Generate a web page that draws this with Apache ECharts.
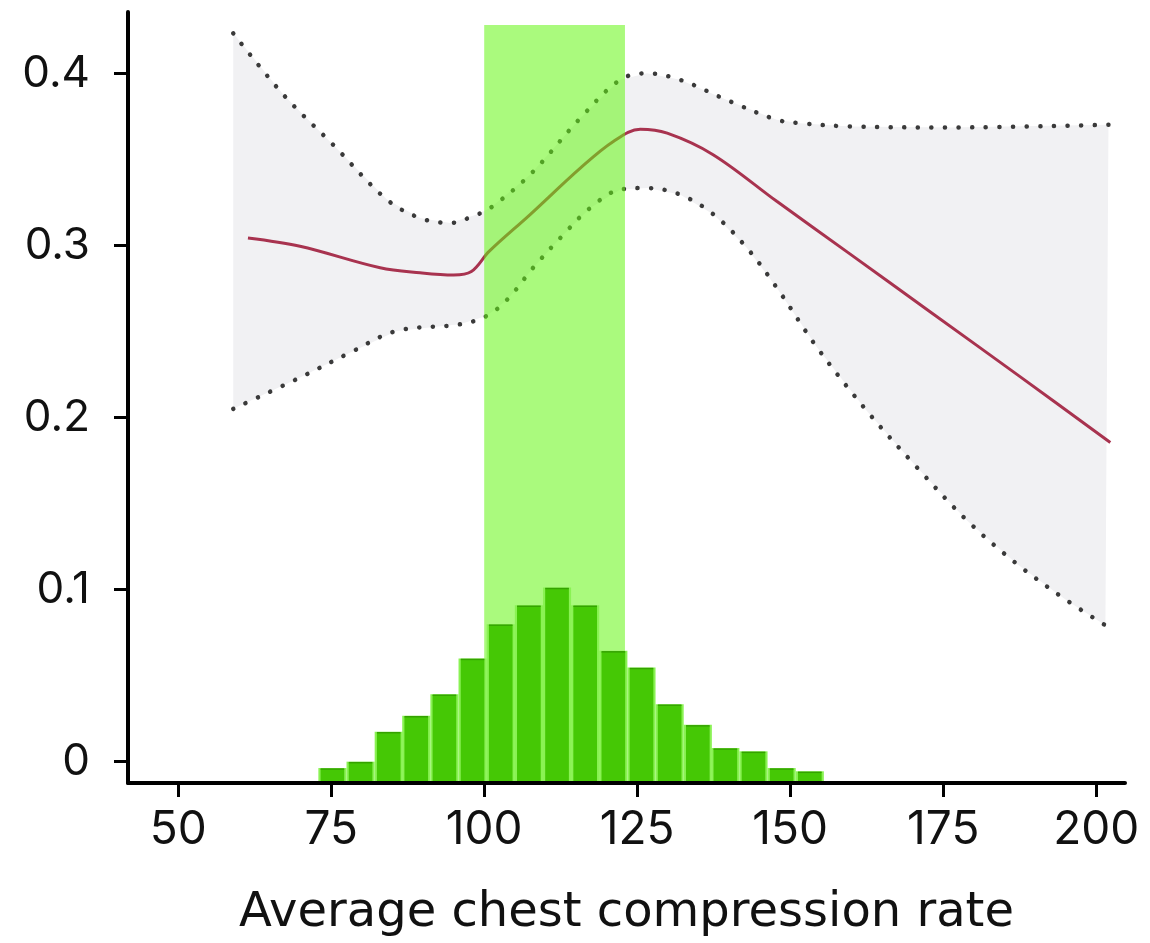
<!DOCTYPE html>
<html>
<head>
<meta charset="utf-8">
<script src="https://cdn.jsdelivr.net/npm/echarts@6/dist/echarts.min.js"></script>
<style>
html,body{margin:0;padding:0;background:#ffffff;}
#chart{width:1150px;height:943px;}
</style>
</head>
<body>
<div id="chart"></div>
<script>
// ---------- data ----------
const xTicks = [50, 75, 100, 125, 150, 175, 200];
const yTicks = [0, 0.1, 0.2, 0.3, 0.4];
const xName = 'Average chest compression rate';

// fitted curve (red)
const curveX = [61.4, 69.9, 83.0, 89.5, 95.0, 97.9, 100.8, 107.5, 115.7, 121.1, 125.5, 129.9, 137.4, 147.8, 159.8, 172.9, 187.6, 202.3];
const curveY = [0.3043, 0.2995, 0.2870, 0.2841, 0.2828, 0.2848, 0.2965, 0.3179, 0.3449, 0.3604, 0.3675, 0.3652, 0.3527, 0.3256, 0.2949, 0.2613, 0.2236, 0.1855];

// upper confidence limit (dotted)
const upperX = [59.0, 67.2, 75.3, 84.1, 89.5, 94.4, 98.8, 101.0, 107.5, 115.7, 122.2, 126.6, 132.0, 140.2, 147.8, 151.6, 159.8, 176.1, 202.0];
const upperY = [0.4232, 0.3875, 0.3585, 0.3266, 0.3159, 0.3130, 0.3179, 0.3217, 0.3411, 0.3739, 0.3962, 0.4000, 0.3962, 0.3836, 0.3730, 0.3710, 0.3691, 0.3685, 0.3701];

// lower confidence limit (dotted)
const lowerX = [59.0, 69.9, 78.1, 85.7, 96.0, 100.4, 103.9, 108.0, 112.7, 117.3, 122.2, 126.6, 132.0, 137.5, 142.9, 147.8, 154.4, 162.5, 170.7, 178.9, 187.0, 195.2, 201.5];
const lowerY = [0.2050, 0.2232, 0.2377, 0.2503, 0.2541, 0.2590, 0.2690, 0.2870, 0.3053, 0.3217, 0.3324, 0.3333, 0.3295, 0.3179, 0.2986, 0.2754, 0.2406, 0.2039, 0.1710, 0.1401, 0.1150, 0.0937, 0.0792];

// histogram of compression rates
const histCenters = [75.2, 79.8, 84.4, 88.9, 93.5, 98.1, 102.7, 107.3, 111.9, 116.5, 121.1, 125.7, 130.3, 134.9, 139.4, 144.0, 148.6, 153.2];
const histHeights = [0.0087, 0.0124, 0.0298, 0.0391, 0.0516, 0.0724, 0.0923, 0.1033, 0.1136, 0.1033, 0.0768, 0.0671, 0.0458, 0.0338, 0.0203, 0.0184, 0.0087, 0.0068];
const binWidth = 4.59;

// recommended range band
const targetRange = [100, 123];
const targetTop = 0.428;

// ---------- chart ----------
const X_MIN = 41.8, X_MAX = 204.7;
const Y_MIN = -0.0124, Y_MAX = 0.4356;
const FONT = 'Inter';
const NAME_FONT = 'DejaVu Sans';

const pairs = (xs, ys) => xs.map((x, i) => [x, ys[i]]);

const chart = echarts.init(document.getElementById('chart'), null, {renderer: 'canvas'});

const option = {
  animation: false,
  backgroundColor: '#ffffff',
  grid: {left: 128, right: 25, top: 12, bottom: 159, containLabel: false},
  xAxis: {
    type: 'value', min: X_MIN, max: X_MAX, z: 10,
    name: xName, nameLocation: 'middle', nameGap: 107,
    nameTextStyle: {fontFamily: NAME_FONT, fontSize: 48, color: '#111', lineHeight: 48},
    axisLine: {onZero: false, lineStyle: {color: '#000', width: 4}},
    axisTick: {show: true, length: 14, lineStyle: {color: '#000', width: 3}, customValues: xTicks},
    axisLabel: {fontFamily: FONT, fontSize: 46, color: '#111', margin: 24, lineHeight: 46, customValues: xTicks},
    splitLine: {show: false}
  },
  yAxis: [{
    type: 'value', min: Y_MIN, max: Y_MAX, z: 10,
    axisLine: {show: true, onZero: false, lineStyle: {color: '#000', width: 4}},
    axisTick: {show: true, length: 14, lineStyle: {color: '#000', width: 3}, customValues: yTicks},
    axisLabel: {fontFamily: FONT, fontSize: 44, color: '#111', margin: 38, customValues: yTicks,
      formatter: v => (Math.abs(v) < 1e-9 ? '0' : v.toFixed(1))},
    splitLine: {show: false}
  }, {
    type: 'value', min: 0, max: Y_MAX - Y_MIN, show: false,
    axisLine: {show: false}, axisTick: {show: false}, axisLabel: {show: false}, splitLine: {show: false}
  }],
  series: [
    {
      name: 'ci', type: 'custom', z: 1, silent: true,
      data: [[upperX[0], upperY[0]]],
      renderItem: (params, api) => {
        const pts = pairs(upperX, upperY).map(p => api.coord(p))
          .concat(pairs(lowerX, lowerY).reverse().map(p => api.coord(p)));
        return {type: 'polygon', shape: {points: pts, smooth: 0}, style: {fill: '#f1f1f3'}};
      }
    },
    {
      name: 'fit', type: 'line', z: 3, symbol: 'none', smooth: 0.35,
      data: pairs(curveX, curveY),
      lineStyle: {color: '#a8334f', width: 3}
    },
    {
      name: 'upper', type: 'line', z: 3, symbol: 'none', smooth: 0.35,
      data: pairs(upperX, upperY),
      lineStyle: {color: '#3a3a3a', width: 4.5, type: [0.1, 13.5], cap: 'round'}
    },
    {
      name: 'lower', type: 'line', z: 3, symbol: 'none', smooth: 0.35,
      data: pairs(lowerX, lowerY),
      lineStyle: {color: '#3a3a3a', width: 4.5, type: [0.1, 13.5], cap: 'round'}
    },
    {
      name: 'target', type: 'custom', z: 4, silent: true,
      data: [[targetRange[0], targetRange[1], targetTop]],
      renderItem: (params, api) => {
        const p0 = api.coord([api.value(0), api.value(2)]);
        const p1 = api.coord([api.value(1), api.value(2)]);
        const bottom = params.coordSys.y + params.coordSys.height;
        return {type: 'rect', shape: {x: p0[0], y: p0[1], width: p1[0] - p0[0], height: bottom - p0[1]},
          style: {fill: 'rgba(100,246,19,0.55)'}};
      }
    },
    {
      name: 'hist', type: 'custom', z: 5, yAxisIndex: 1, silent: true,
      data: pairs(histCenters, histHeights),
      encode: {x: 0, y: 1},
      renderItem: (params, api) => {
        const c = api.value(0), h = api.value(1);
        const p0 = api.coord([c - binWidth / 2, 0]);
        const p1 = api.coord([c + binWidth / 2, h]);
        const x = p0[0], w = p1[0] - p0[0], y = p1[1], hh = p0[1] - p1[1];
        return {type: 'group', children: [
          {type: 'rect', shape: {x: x, y: y, width: w, height: hh}, style: {fill: '#8af254'}},
          {type: 'rect', shape: {x: x + 2.2, y: y + 1, width: w - 4.4, height: hh - 1}, style: {fill: '#45c805'}},
          {type: 'line', shape: {x1: x + 2.2, y1: y + 1, x2: x + w - 2.2, y2: y + 1}, style: {stroke: '#34a200', lineWidth: 1.5}}
        ]};
      }
    }
  ]
};
chart.setOption(option);
</script>
</body>
</html>
